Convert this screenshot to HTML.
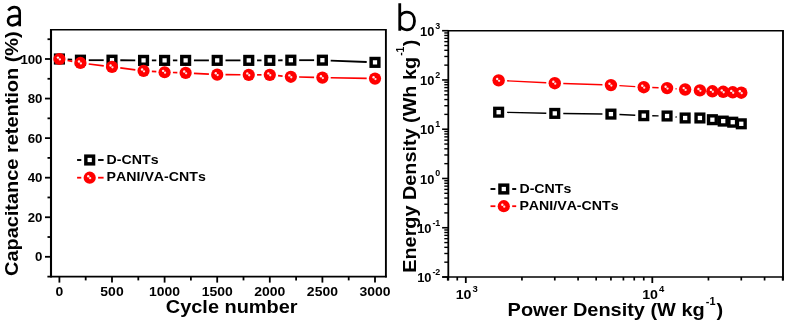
<!DOCTYPE html>
<html><head><meta charset="utf-8"><title>chart</title>
<style>html,body{margin:0;padding:0;background:#fff;}svg{display:block;will-change:transform}text{font-kerning:none}</style></head>
<body><svg width="787" height="323" viewBox="0 0 787 323">
<rect width="787" height="323" fill="#fff"/>
<line x1="51.0" y1="29.75" x2="385.9" y2="29.75" stroke="#000" stroke-width="1.5"/>
<line x1="385.9" y1="29.0" x2="385.9" y2="277.45000000000005" stroke="#000" stroke-width="1.9"/>
<line x1="51.0" y1="29.0" x2="51.0" y2="277.45000000000005" stroke="#000" stroke-width="2.1"/>
<line x1="47.4" y1="276.6" x2="386.79999999999995" y2="276.6" stroke="#000" stroke-width="1.7"/>
<line x1="45.0" y1="256.80" x2="51.0" y2="256.80" stroke="#000" stroke-width="1.8"/>
<text transform="translate(42.50,261.40) scale(1.02,1)" text-anchor="end" font-family="Liberation Sans, sans-serif" font-weight="bold" font-size="13">0</text>
<line x1="47.5" y1="237.02" x2="51.0" y2="237.02" stroke="#000" stroke-width="1.8"/>
<line x1="45.0" y1="217.24" x2="51.0" y2="217.24" stroke="#000" stroke-width="1.8"/>
<text transform="translate(42.50,221.84) scale(1.02,1)" text-anchor="end" font-family="Liberation Sans, sans-serif" font-weight="bold" font-size="13">20</text>
<line x1="47.5" y1="197.46" x2="51.0" y2="197.46" stroke="#000" stroke-width="1.8"/>
<line x1="45.0" y1="177.68" x2="51.0" y2="177.68" stroke="#000" stroke-width="1.8"/>
<text transform="translate(42.50,182.28) scale(1.02,1)" text-anchor="end" font-family="Liberation Sans, sans-serif" font-weight="bold" font-size="13">40</text>
<line x1="47.5" y1="157.90" x2="51.0" y2="157.90" stroke="#000" stroke-width="1.8"/>
<line x1="45.0" y1="138.12" x2="51.0" y2="138.12" stroke="#000" stroke-width="1.8"/>
<text transform="translate(42.50,142.72) scale(1.02,1)" text-anchor="end" font-family="Liberation Sans, sans-serif" font-weight="bold" font-size="13">60</text>
<line x1="47.5" y1="118.34" x2="51.0" y2="118.34" stroke="#000" stroke-width="1.8"/>
<line x1="45.0" y1="98.56" x2="51.0" y2="98.56" stroke="#000" stroke-width="1.8"/>
<text transform="translate(42.50,103.16) scale(1.02,1)" text-anchor="end" font-family="Liberation Sans, sans-serif" font-weight="bold" font-size="13">80</text>
<line x1="47.5" y1="78.78" x2="51.0" y2="78.78" stroke="#000" stroke-width="1.8"/>
<line x1="45.0" y1="59.00" x2="51.0" y2="59.00" stroke="#000" stroke-width="1.8"/>
<text transform="translate(42.50,63.60) scale(1.02,1)" text-anchor="end" font-family="Liberation Sans, sans-serif" font-weight="bold" font-size="13">100</text>
<line x1="47.5" y1="39.22" x2="51.0" y2="39.22" stroke="#000" stroke-width="1.8"/>
<line x1="59.40" y1="276.6" x2="59.40" y2="282.6" stroke="#000" stroke-width="1.8"/>
<text transform="translate(59.40,296.40) scale(1.075,1)" text-anchor="middle" font-family="Liberation Sans, sans-serif" font-weight="bold" font-size="13">0</text>
<line x1="85.70" y1="276.6" x2="85.70" y2="280.40000000000003" stroke="#000" stroke-width="1.8"/>
<line x1="112.00" y1="276.6" x2="112.00" y2="282.6" stroke="#000" stroke-width="1.8"/>
<text transform="translate(112.00,296.40) scale(1.075,1)" text-anchor="middle" font-family="Liberation Sans, sans-serif" font-weight="bold" font-size="13">500</text>
<line x1="138.30" y1="276.6" x2="138.30" y2="280.40000000000003" stroke="#000" stroke-width="1.8"/>
<line x1="164.60" y1="276.6" x2="164.60" y2="282.6" stroke="#000" stroke-width="1.8"/>
<text transform="translate(164.60,296.40) scale(1.075,1)" text-anchor="middle" font-family="Liberation Sans, sans-serif" font-weight="bold" font-size="13">1000</text>
<line x1="190.90" y1="276.6" x2="190.90" y2="280.40000000000003" stroke="#000" stroke-width="1.8"/>
<line x1="217.20" y1="276.6" x2="217.20" y2="282.6" stroke="#000" stroke-width="1.8"/>
<text transform="translate(217.20,296.40) scale(1.075,1)" text-anchor="middle" font-family="Liberation Sans, sans-serif" font-weight="bold" font-size="13">1500</text>
<line x1="243.50" y1="276.6" x2="243.50" y2="280.40000000000003" stroke="#000" stroke-width="1.8"/>
<line x1="269.80" y1="276.6" x2="269.80" y2="282.6" stroke="#000" stroke-width="1.8"/>
<text transform="translate(269.80,296.40) scale(1.075,1)" text-anchor="middle" font-family="Liberation Sans, sans-serif" font-weight="bold" font-size="13">2000</text>
<line x1="296.10" y1="276.6" x2="296.10" y2="280.40000000000003" stroke="#000" stroke-width="1.8"/>
<line x1="322.40" y1="276.6" x2="322.40" y2="282.6" stroke="#000" stroke-width="1.8"/>
<text transform="translate(322.40,296.40) scale(1.075,1)" text-anchor="middle" font-family="Liberation Sans, sans-serif" font-weight="bold" font-size="13">2500</text>
<line x1="348.70" y1="276.6" x2="348.70" y2="280.40000000000003" stroke="#000" stroke-width="1.8"/>
<line x1="375.00" y1="276.6" x2="375.00" y2="282.6" stroke="#000" stroke-width="1.8"/>
<text transform="translate(375.00,296.40) scale(1.075,1)" text-anchor="middle" font-family="Liberation Sans, sans-serif" font-weight="bold" font-size="13">3000</text>
<line x1="67.69" y1="59.47" x2="72.15" y2="59.72" stroke="#000" stroke-width="1.8"/><line x1="88.74" y1="60.19" x2="103.70" y2="60.19" stroke="#000" stroke-width="1.8"/><line x1="120.30" y1="60.24" x2="135.26" y2="60.33" stroke="#000" stroke-width="1.8"/><line x1="151.86" y1="60.38" x2="156.30" y2="60.38" stroke="#000" stroke-width="1.8"/><line x1="172.90" y1="60.38" x2="177.34" y2="60.38" stroke="#000" stroke-width="1.8"/><line x1="193.94" y1="60.38" x2="208.90" y2="60.38" stroke="#000" stroke-width="1.8"/><line x1="225.50" y1="60.38" x2="240.46" y2="60.38" stroke="#000" stroke-width="1.8"/><line x1="257.06" y1="60.38" x2="261.50" y2="60.38" stroke="#000" stroke-width="1.8"/><line x1="278.10" y1="60.31" x2="282.54" y2="60.26" stroke="#000" stroke-width="1.8"/><line x1="299.14" y1="60.19" x2="314.10" y2="60.19" stroke="#000" stroke-width="1.8"/><line x1="330.69" y1="60.53" x2="366.71" y2="62.02" stroke="#000" stroke-width="1.8"/><rect x="55.55" y="55.15" width="7.7" height="7.7" fill="#fff" stroke="#000" stroke-width="3.45"/><rect x="76.59" y="56.34" width="7.7" height="7.7" fill="#fff" stroke="#000" stroke-width="3.45"/><rect x="108.15" y="56.34" width="7.7" height="7.7" fill="#fff" stroke="#000" stroke-width="3.45"/><rect x="139.71" y="56.53" width="7.7" height="7.7" fill="#fff" stroke="#000" stroke-width="3.45"/><rect x="160.75" y="56.53" width="7.7" height="7.7" fill="#fff" stroke="#000" stroke-width="3.45"/><rect x="181.79" y="56.53" width="7.7" height="7.7" fill="#fff" stroke="#000" stroke-width="3.45"/><rect x="213.35" y="56.53" width="7.7" height="7.7" fill="#fff" stroke="#000" stroke-width="3.45"/><rect x="244.91" y="56.53" width="7.7" height="7.7" fill="#fff" stroke="#000" stroke-width="3.45"/><rect x="265.95" y="56.53" width="7.7" height="7.7" fill="#fff" stroke="#000" stroke-width="3.45"/><rect x="286.99" y="56.34" width="7.7" height="7.7" fill="#fff" stroke="#000" stroke-width="3.45"/><rect x="318.55" y="56.34" width="7.7" height="7.7" fill="#fff" stroke="#000" stroke-width="3.45"/><rect x="371.15" y="58.51" width="7.7" height="7.7" fill="#fff" stroke="#000" stroke-width="3.45"/>
<line x1="67.56" y1="60.53" x2="72.28" y2="61.42" stroke="#f00" stroke-width="1.7"/><line x1="88.68" y1="63.99" x2="103.76" y2="65.88" stroke="#f00" stroke-width="1.7"/><line x1="120.24" y1="67.94" x2="135.32" y2="69.84" stroke="#f00" stroke-width="1.7"/><line x1="151.84" y1="71.41" x2="156.32" y2="71.71" stroke="#f00" stroke-width="1.7"/><line x1="172.90" y1="72.49" x2="177.34" y2="72.61" stroke="#f00" stroke-width="1.7"/><line x1="193.93" y1="73.31" x2="208.91" y2="74.16" stroke="#f00" stroke-width="1.7"/><line x1="225.50" y1="74.68" x2="240.46" y2="74.77" stroke="#f00" stroke-width="1.7"/><line x1="257.06" y1="74.82" x2="261.50" y2="74.82" stroke="#f00" stroke-width="1.7"/><line x1="278.06" y1="75.60" x2="282.58" y2="76.03" stroke="#f00" stroke-width="1.7"/><line x1="299.14" y1="77.01" x2="314.10" y2="77.39" stroke="#f00" stroke-width="1.7"/><line x1="330.70" y1="77.75" x2="366.70" y2="78.43" stroke="#f00" stroke-width="1.7"/><circle cx="59.40" cy="59.00" r="6.1" fill="#f00"/><circle cx="57.95" cy="57.60" r="1.2" fill="#fff" fill-opacity="0.92"/><circle cx="59.85" cy="59.45" r="1.15" fill="#fff" fill-opacity="0.88"/><circle cx="80.44" cy="62.96" r="6.1" fill="#f00"/><circle cx="78.99" cy="61.56" r="1.2" fill="#fff" fill-opacity="0.92"/><circle cx="80.89" cy="63.41" r="1.15" fill="#fff" fill-opacity="0.88"/><circle cx="112.00" cy="66.91" r="6.1" fill="#f00"/><circle cx="110.55" cy="65.51" r="1.2" fill="#fff" fill-opacity="0.92"/><circle cx="112.45" cy="67.36" r="1.15" fill="#fff" fill-opacity="0.88"/><circle cx="143.56" cy="70.87" r="6.1" fill="#f00"/><circle cx="142.11" cy="69.47" r="1.2" fill="#fff" fill-opacity="0.92"/><circle cx="144.01" cy="71.32" r="1.15" fill="#fff" fill-opacity="0.88"/><circle cx="164.60" cy="72.25" r="6.1" fill="#f00"/><circle cx="163.15" cy="70.85" r="1.2" fill="#fff" fill-opacity="0.92"/><circle cx="165.05" cy="72.70" r="1.15" fill="#fff" fill-opacity="0.88"/><circle cx="185.64" cy="72.85" r="6.1" fill="#f00"/><circle cx="184.19" cy="71.45" r="1.2" fill="#fff" fill-opacity="0.92"/><circle cx="186.09" cy="73.30" r="1.15" fill="#fff" fill-opacity="0.88"/><circle cx="217.20" cy="74.63" r="6.1" fill="#f00"/><circle cx="215.75" cy="73.23" r="1.2" fill="#fff" fill-opacity="0.92"/><circle cx="217.65" cy="75.08" r="1.15" fill="#fff" fill-opacity="0.88"/><circle cx="248.76" cy="74.82" r="6.1" fill="#f00"/><circle cx="247.31" cy="73.42" r="1.2" fill="#fff" fill-opacity="0.92"/><circle cx="249.21" cy="75.27" r="1.15" fill="#fff" fill-opacity="0.88"/><circle cx="269.80" cy="74.82" r="6.1" fill="#f00"/><circle cx="268.35" cy="73.42" r="1.2" fill="#fff" fill-opacity="0.92"/><circle cx="270.25" cy="75.27" r="1.15" fill="#fff" fill-opacity="0.88"/><circle cx="290.84" cy="76.80" r="6.1" fill="#f00"/><circle cx="289.39" cy="75.40" r="1.2" fill="#fff" fill-opacity="0.92"/><circle cx="291.29" cy="77.25" r="1.15" fill="#fff" fill-opacity="0.88"/><circle cx="322.40" cy="77.59" r="6.1" fill="#f00"/><circle cx="320.95" cy="76.19" r="1.2" fill="#fff" fill-opacity="0.92"/><circle cx="322.85" cy="78.04" r="1.15" fill="#fff" fill-opacity="0.88"/><circle cx="375.00" cy="78.58" r="6.1" fill="#f00"/><circle cx="373.55" cy="77.18" r="1.2" fill="#fff" fill-opacity="0.92"/><circle cx="375.45" cy="79.03" r="1.15" fill="#fff" fill-opacity="0.88"/>
<line x1="77.1" y1="160.0" x2="103.6" y2="160.0" stroke="#000" stroke-width="1.9"/>
<rect x="81.3" y="157.0" width="16.8" height="6" fill="#fff"/>
<rect x="85.85" y="156.15" width="7.7" height="7.7" fill="#fff" stroke="#000" stroke-width="3.45"/>
<line x1="77.1" y1="177.7" x2="103.6" y2="177.7" stroke="#f00" stroke-width="1.8"/>
<rect x="81.3" y="174.7" width="16.8" height="6" fill="#fff"/>
<circle cx="89.70" cy="177.70" r="6.1" fill="#f00"/><circle cx="88.25" cy="176.30" r="1.2" fill="#fff" fill-opacity="0.92"/><circle cx="90.15" cy="178.15" r="1.15" fill="#fff" fill-opacity="0.88"/>
<text transform="translate(106.60,164.30) scale(1.066,1)" text-anchor="start" font-family="Liberation Sans, sans-serif" font-weight="bold" font-size="13.3">D-CNTs</text>
<text transform="translate(106.60,181.40) scale(1.066,1)" text-anchor="start" font-family="Liberation Sans, sans-serif" font-weight="bold" font-size="13.3">PANI/VA-CNTs</text>
<text transform="translate(165.80,313.10) scale(1.09,1)" text-anchor="start" font-family="Liberation Sans, sans-serif" font-weight="bold" font-size="18.3">Cycle number</text>
<text transform="translate(18.20,276.00) rotate(-90) scale(1.078,1)" text-anchor="start" font-family="Liberation Sans, sans-serif" font-weight="bold" font-size="18.5">Capacitance retention (%)</text>
<path d="M19.7 26.2 V12.6 M8.3 10.5 C9.8 8.4 12 7.15 14.4 7.15 C17.9 7.15 19.7 9.2 19.7 12.8 M19.7 16.1 H14.6 C10.5 16.1 8.05 17.8 8.05 20.8 C8.05 23.6 10 25.3 12.6 25.3 C15.3 25.3 17.6 23.9 19.7 21.4" fill="none" stroke="#000" stroke-width="2.65" stroke-linejoin="round"/>
<line x1="448.3" y1="30.7" x2="783.0" y2="30.7" stroke="#000" stroke-width="1.5"/>
<line x1="783.0" y1="29.95" x2="783.0" y2="280.5" stroke="#000" stroke-width="1.9"/>
<line x1="448.3" y1="29.95" x2="448.3" y2="280.5" stroke="#000" stroke-width="1.8"/>
<line x1="442.3" y1="277.0" x2="783.9" y2="277.0" stroke="#000" stroke-width="1.6"/>
<line x1="442.1" y1="277.00" x2="448.3" y2="277.00" stroke="#000" stroke-width="1.6"/>
<text transform="translate(440.30,282.20) scale(0.97,1)" text-anchor="end" font-family="Liberation Sans, sans-serif" font-weight="bold" font-size="13.3">10<tspan font-size="9.2" dy="-7.3" dx="0.9">-2</tspan></text>
<line x1="444.3" y1="262.17" x2="448.3" y2="262.17" stroke="#000" stroke-width="1.4"/>
<line x1="444.3" y1="253.50" x2="448.3" y2="253.50" stroke="#000" stroke-width="1.4"/>
<line x1="444.3" y1="247.34" x2="448.3" y2="247.34" stroke="#000" stroke-width="1.4"/>
<line x1="444.3" y1="242.57" x2="448.3" y2="242.57" stroke="#000" stroke-width="1.4"/>
<line x1="444.3" y1="238.67" x2="448.3" y2="238.67" stroke="#000" stroke-width="1.4"/>
<line x1="444.3" y1="235.37" x2="448.3" y2="235.37" stroke="#000" stroke-width="1.4"/>
<line x1="444.3" y1="232.51" x2="448.3" y2="232.51" stroke="#000" stroke-width="1.4"/>
<line x1="444.3" y1="229.99" x2="448.3" y2="229.99" stroke="#000" stroke-width="1.4"/>
<line x1="442.1" y1="227.74" x2="448.3" y2="227.74" stroke="#000" stroke-width="1.6"/>
<text transform="translate(440.30,232.94) scale(0.97,1)" text-anchor="end" font-family="Liberation Sans, sans-serif" font-weight="bold" font-size="13.3">10<tspan font-size="9.2" dy="-7.3" dx="0.9">-1</tspan></text>
<line x1="444.3" y1="212.91" x2="448.3" y2="212.91" stroke="#000" stroke-width="1.4"/>
<line x1="444.3" y1="204.24" x2="448.3" y2="204.24" stroke="#000" stroke-width="1.4"/>
<line x1="444.3" y1="198.08" x2="448.3" y2="198.08" stroke="#000" stroke-width="1.4"/>
<line x1="444.3" y1="193.31" x2="448.3" y2="193.31" stroke="#000" stroke-width="1.4"/>
<line x1="444.3" y1="189.41" x2="448.3" y2="189.41" stroke="#000" stroke-width="1.4"/>
<line x1="444.3" y1="186.11" x2="448.3" y2="186.11" stroke="#000" stroke-width="1.4"/>
<line x1="444.3" y1="183.25" x2="448.3" y2="183.25" stroke="#000" stroke-width="1.4"/>
<line x1="444.3" y1="180.73" x2="448.3" y2="180.73" stroke="#000" stroke-width="1.4"/>
<line x1="442.1" y1="178.48" x2="448.3" y2="178.48" stroke="#000" stroke-width="1.6"/>
<text transform="translate(440.30,183.68) scale(0.97,1)" text-anchor="end" font-family="Liberation Sans, sans-serif" font-weight="bold" font-size="13.3">10<tspan font-size="9.2" dy="-7.3" dx="0.9">0</tspan></text>
<line x1="444.3" y1="163.65" x2="448.3" y2="163.65" stroke="#000" stroke-width="1.4"/>
<line x1="444.3" y1="154.98" x2="448.3" y2="154.98" stroke="#000" stroke-width="1.4"/>
<line x1="444.3" y1="148.82" x2="448.3" y2="148.82" stroke="#000" stroke-width="1.4"/>
<line x1="444.3" y1="144.05" x2="448.3" y2="144.05" stroke="#000" stroke-width="1.4"/>
<line x1="444.3" y1="140.15" x2="448.3" y2="140.15" stroke="#000" stroke-width="1.4"/>
<line x1="444.3" y1="136.85" x2="448.3" y2="136.85" stroke="#000" stroke-width="1.4"/>
<line x1="444.3" y1="133.99" x2="448.3" y2="133.99" stroke="#000" stroke-width="1.4"/>
<line x1="444.3" y1="131.47" x2="448.3" y2="131.47" stroke="#000" stroke-width="1.4"/>
<line x1="442.1" y1="129.22" x2="448.3" y2="129.22" stroke="#000" stroke-width="1.6"/>
<text transform="translate(440.30,134.42) scale(0.97,1)" text-anchor="end" font-family="Liberation Sans, sans-serif" font-weight="bold" font-size="13.3">10<tspan font-size="9.2" dy="-7.3" dx="0.9">1</tspan></text>
<line x1="444.3" y1="114.39" x2="448.3" y2="114.39" stroke="#000" stroke-width="1.4"/>
<line x1="444.3" y1="105.72" x2="448.3" y2="105.72" stroke="#000" stroke-width="1.4"/>
<line x1="444.3" y1="99.56" x2="448.3" y2="99.56" stroke="#000" stroke-width="1.4"/>
<line x1="444.3" y1="94.79" x2="448.3" y2="94.79" stroke="#000" stroke-width="1.4"/>
<line x1="444.3" y1="90.89" x2="448.3" y2="90.89" stroke="#000" stroke-width="1.4"/>
<line x1="444.3" y1="87.59" x2="448.3" y2="87.59" stroke="#000" stroke-width="1.4"/>
<line x1="444.3" y1="84.73" x2="448.3" y2="84.73" stroke="#000" stroke-width="1.4"/>
<line x1="444.3" y1="82.21" x2="448.3" y2="82.21" stroke="#000" stroke-width="1.4"/>
<line x1="442.1" y1="79.96" x2="448.3" y2="79.96" stroke="#000" stroke-width="1.6"/>
<text transform="translate(440.30,85.16) scale(0.97,1)" text-anchor="end" font-family="Liberation Sans, sans-serif" font-weight="bold" font-size="13.3">10<tspan font-size="9.2" dy="-7.3" dx="0.9">2</tspan></text>
<line x1="444.3" y1="65.13" x2="448.3" y2="65.13" stroke="#000" stroke-width="1.4"/>
<line x1="444.3" y1="56.46" x2="448.3" y2="56.46" stroke="#000" stroke-width="1.4"/>
<line x1="444.3" y1="50.30" x2="448.3" y2="50.30" stroke="#000" stroke-width="1.4"/>
<line x1="444.3" y1="45.53" x2="448.3" y2="45.53" stroke="#000" stroke-width="1.4"/>
<line x1="444.3" y1="41.63" x2="448.3" y2="41.63" stroke="#000" stroke-width="1.4"/>
<line x1="444.3" y1="38.33" x2="448.3" y2="38.33" stroke="#000" stroke-width="1.4"/>
<line x1="444.3" y1="35.47" x2="448.3" y2="35.47" stroke="#000" stroke-width="1.4"/>
<line x1="444.3" y1="32.95" x2="448.3" y2="32.95" stroke="#000" stroke-width="1.4"/>
<line x1="442.1" y1="30.70" x2="448.3" y2="30.70" stroke="#000" stroke-width="1.6"/>
<text transform="translate(440.30,35.90) scale(0.97,1)" text-anchor="end" font-family="Liberation Sans, sans-serif" font-weight="bold" font-size="13.3">10<tspan font-size="9.2" dy="-7.3" dx="0.9">3</tspan></text>
<line x1="447.73" y1="277.0" x2="447.73" y2="280.5" stroke="#000" stroke-width="1.7"/>
<line x1="457.27" y1="277.0" x2="457.27" y2="280.5" stroke="#000" stroke-width="1.7"/>
<line x1="465.80" y1="277.0" x2="465.80" y2="283.0" stroke="#000" stroke-width="1.8"/>
<text transform="translate(466.70,299.40) scale(1.13,1)" text-anchor="middle" font-family="Liberation Sans, sans-serif" font-weight="bold" font-size="12.6">10<tspan font-size="8.4" dy="-7.2" dx="0.8">3</tspan></text>
<line x1="521.94" y1="277.0" x2="521.94" y2="280.5" stroke="#000" stroke-width="1.7"/>
<line x1="554.78" y1="277.0" x2="554.78" y2="280.5" stroke="#000" stroke-width="1.7"/>
<line x1="578.08" y1="277.0" x2="578.08" y2="280.5" stroke="#000" stroke-width="1.7"/>
<line x1="596.16" y1="277.0" x2="596.16" y2="280.5" stroke="#000" stroke-width="1.7"/>
<line x1="610.93" y1="277.0" x2="610.93" y2="280.5" stroke="#000" stroke-width="1.7"/>
<line x1="623.41" y1="277.0" x2="623.41" y2="280.5" stroke="#000" stroke-width="1.7"/>
<line x1="634.23" y1="277.0" x2="634.23" y2="280.5" stroke="#000" stroke-width="1.7"/>
<line x1="643.77" y1="277.0" x2="643.77" y2="280.5" stroke="#000" stroke-width="1.7"/>
<line x1="652.30" y1="277.0" x2="652.30" y2="283.0" stroke="#000" stroke-width="1.8"/>
<text transform="translate(653.20,299.40) scale(1.13,1)" text-anchor="middle" font-family="Liberation Sans, sans-serif" font-weight="bold" font-size="12.6">10<tspan font-size="8.4" dy="-7.2" dx="0.8">4</tspan></text>
<line x1="708.44" y1="277.0" x2="708.44" y2="280.5" stroke="#000" stroke-width="1.7"/>
<line x1="741.28" y1="277.0" x2="741.28" y2="280.5" stroke="#000" stroke-width="1.7"/>
<line x1="764.58" y1="277.0" x2="764.58" y2="280.5" stroke="#000" stroke-width="1.7"/>
<line x1="782.66" y1="277.0" x2="782.66" y2="280.5" stroke="#000" stroke-width="1.7"/>
<line x1="507.14" y1="112.38" x2="546.29" y2="113.22" stroke="#000" stroke-width="1.4"/><line x1="563.28" y1="113.51" x2="602.43" y2="113.99" stroke="#000" stroke-width="1.4"/><line x1="619.42" y1="114.51" x2="635.28" y2="115.29" stroke="#000" stroke-width="1.4"/><line x1="652.27" y1="115.81" x2="658.57" y2="115.89" stroke="#000" stroke-width="1.4"/><line x1="675.52" y1="116.93" x2="676.69" y2="117.07" stroke="#000" stroke-width="1.4"/><rect x="494.79" y="108.35" width="7.7" height="7.7" fill="#fff" stroke="#000" stroke-width="3.4"/><rect x="550.93" y="109.55" width="7.7" height="7.7" fill="#fff" stroke="#000" stroke-width="3.4"/><rect x="607.08" y="110.25" width="7.7" height="7.7" fill="#fff" stroke="#000" stroke-width="3.4"/><rect x="639.92" y="111.85" width="7.7" height="7.7" fill="#fff" stroke="#000" stroke-width="3.4"/><rect x="663.22" y="112.15" width="7.7" height="7.7" fill="#fff" stroke="#000" stroke-width="3.4"/><rect x="681.29" y="114.15" width="7.7" height="7.7" fill="#fff" stroke="#000" stroke-width="3.4"/><rect x="696.06" y="114.15" width="7.7" height="7.7" fill="#fff" stroke="#000" stroke-width="3.4"/><rect x="708.54" y="115.85" width="7.7" height="7.7" fill="#fff" stroke="#000" stroke-width="3.4"/><rect x="719.36" y="117.25" width="7.7" height="7.7" fill="#fff" stroke="#000" stroke-width="3.4"/><rect x="728.90" y="118.35" width="7.7" height="7.7" fill="#fff" stroke="#000" stroke-width="3.4"/><rect x="737.43" y="119.95" width="7.7" height="7.7" fill="#fff" stroke="#000" stroke-width="3.4"/>
<line x1="507.13" y1="80.82" x2="546.29" y2="82.78" stroke="#f00" stroke-width="1.4"/><line x1="563.28" y1="83.49" x2="602.43" y2="84.81" stroke="#f00" stroke-width="1.4"/><line x1="619.41" y1="85.64" x2="635.28" y2="86.66" stroke="#f00" stroke-width="1.4"/><line x1="652.26" y1="87.53" x2="658.57" y2="87.77" stroke="#f00" stroke-width="1.4"/><line x1="675.54" y1="88.76" x2="676.67" y2="88.84" stroke="#f00" stroke-width="1.4"/><circle cx="498.64" cy="80.40" r="6.2" fill="#f00"/><circle cx="497.19" cy="79.00" r="1.2" fill="#fff" fill-opacity="0.92"/><circle cx="499.09" cy="80.85" r="1.15" fill="#fff" fill-opacity="0.88"/><circle cx="554.78" cy="83.20" r="6.2" fill="#f00"/><circle cx="553.33" cy="81.80" r="1.2" fill="#fff" fill-opacity="0.92"/><circle cx="555.23" cy="83.65" r="1.15" fill="#fff" fill-opacity="0.88"/><circle cx="610.93" cy="85.10" r="6.2" fill="#f00"/><circle cx="609.48" cy="83.70" r="1.2" fill="#fff" fill-opacity="0.92"/><circle cx="611.38" cy="85.55" r="1.15" fill="#fff" fill-opacity="0.88"/><circle cx="643.77" cy="87.20" r="6.2" fill="#f00"/><circle cx="642.32" cy="85.80" r="1.2" fill="#fff" fill-opacity="0.92"/><circle cx="644.22" cy="87.65" r="1.15" fill="#fff" fill-opacity="0.88"/><circle cx="667.07" cy="88.10" r="6.2" fill="#f00"/><circle cx="665.62" cy="86.70" r="1.2" fill="#fff" fill-opacity="0.92"/><circle cx="667.52" cy="88.55" r="1.15" fill="#fff" fill-opacity="0.88"/><circle cx="685.14" cy="89.50" r="6.2" fill="#f00"/><circle cx="683.69" cy="88.10" r="1.2" fill="#fff" fill-opacity="0.92"/><circle cx="685.59" cy="89.95" r="1.15" fill="#fff" fill-opacity="0.88"/><circle cx="699.91" cy="90.40" r="6.2" fill="#f00"/><circle cx="698.46" cy="89.00" r="1.2" fill="#fff" fill-opacity="0.92"/><circle cx="700.36" cy="90.85" r="1.15" fill="#fff" fill-opacity="0.88"/><circle cx="712.39" cy="91.30" r="6.2" fill="#f00"/><circle cx="710.94" cy="89.90" r="1.2" fill="#fff" fill-opacity="0.92"/><circle cx="712.84" cy="91.75" r="1.15" fill="#fff" fill-opacity="0.88"/><circle cx="723.21" cy="91.80" r="6.2" fill="#f00"/><circle cx="721.76" cy="90.40" r="1.2" fill="#fff" fill-opacity="0.92"/><circle cx="723.66" cy="92.25" r="1.15" fill="#fff" fill-opacity="0.88"/><circle cx="732.75" cy="92.30" r="6.2" fill="#f00"/><circle cx="731.30" cy="90.90" r="1.2" fill="#fff" fill-opacity="0.92"/><circle cx="733.20" cy="92.75" r="1.15" fill="#fff" fill-opacity="0.88"/><circle cx="741.28" cy="92.70" r="6.2" fill="#f00"/><circle cx="739.83" cy="91.30" r="1.2" fill="#fff" fill-opacity="0.92"/><circle cx="741.73" cy="93.15" r="1.15" fill="#fff" fill-opacity="0.88"/>
<line x1="490.5" y1="189.0" x2="516.2" y2="189.0" stroke="#000" stroke-width="1.9"/>
<rect x="495.40000000000003" y="186.0" width="16.8" height="6" fill="#fff"/>
<rect x="499.95" y="185.15" width="7.7" height="7.7" fill="#fff" stroke="#000" stroke-width="3.45"/>
<line x1="490.5" y1="206.2" x2="516.2" y2="206.2" stroke="#f00" stroke-width="1.8"/>
<rect x="495.40000000000003" y="203.2" width="16.8" height="6" fill="#fff"/>
<circle cx="503.80" cy="206.20" r="6.1" fill="#f00"/><circle cx="502.35" cy="204.80" r="1.2" fill="#fff" fill-opacity="0.92"/><circle cx="504.25" cy="206.65" r="1.15" fill="#fff" fill-opacity="0.88"/>
<text transform="translate(519.40,192.70) scale(1.066,1)" text-anchor="start" font-family="Liberation Sans, sans-serif" font-weight="bold" font-size="13.3">D-CNTs</text>
<text transform="translate(519.40,210.40) scale(1.066,1)" text-anchor="start" font-family="Liberation Sans, sans-serif" font-weight="bold" font-size="13.3">PANI/VA-CNTs</text>
<text transform="translate(507.60,315.50) scale(1.09,1)" text-anchor="start" font-family="Liberation Sans, sans-serif" font-weight="bold" font-size="18.3">Power Density (W kg<tspan font-size="10" dy="-11" dx="1">-1</tspan><tspan dy="11" dx="1">)</tspan></text>
<text transform="translate(415.50,272.70) rotate(-90) scale(1.033,1)" text-anchor="start" font-family="Liberation Sans, sans-serif" font-weight="bold" font-size="19.2">Energy Density (Wh kg<tspan font-size="10" dy="-11.7" dx="1">-1</tspan><tspan dy="11.7" dx="0.5">)</tspan></text>
<path d="M399.75 3.3 V30.8 M399.75 16.2 C401.6 13.5 404 12.15 406.9 12.15 C411.6 12.15 414.5 15.7 414.5 21 C414.5 26.3 411.6 29.85 406.9 29.85 C404 29.85 401.6 28.5 399.75 25.8" fill="none" stroke="#000" stroke-width="2.8" stroke-linejoin="round"/>
</svg></body></html>
